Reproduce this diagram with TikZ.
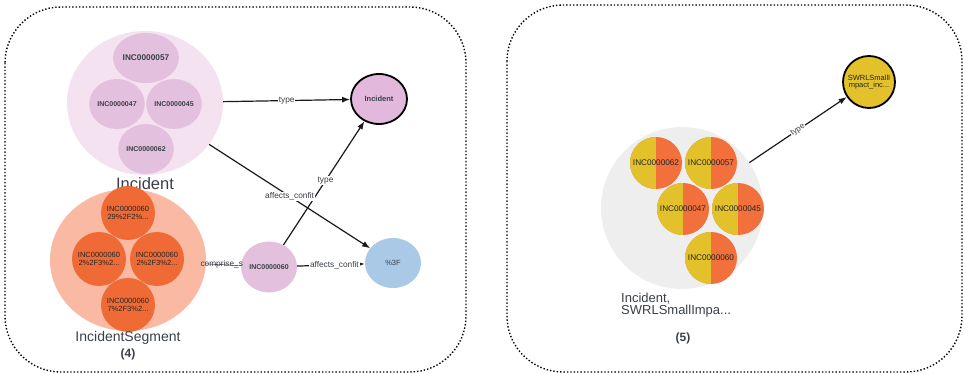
\documentclass[tikz,border=0pt]{standalone}
\usepackage{fontspec}
\setmainfont{Liberation Sans}
\usetikzlibrary{arrows.meta,shapes.geometric,positioning}

\definecolor{grpPink}{HTML}{F4E2F1}
\definecolor{memPink}{HTML}{E3C1DE}
\definecolor{clsPink}{HTML}{E2B9DC}
\definecolor{segPeach}{HTML}{F9B9A2}
\definecolor{segOrange}{HTML}{F06A36}
\definecolor{valBlue}{HTML}{A9C9E6}
\definecolor{grpGray}{HTML}{EEEEEE}
\definecolor{halfYellow}{HTML}{E2C12B}
\definecolor{halfOrange}{HTML}{F2703B}
\definecolor{txtGray}{HTML}{3A3F47}

\def\fs#1{\fontsize{#1}{#1}\selectfont}

\tikzset{
  panel/.style={dotted, line width=1.4pt, rounded corners=56pt},
  grp/.style={ellipse, inner sep=0pt, draw=none},
  member/.style={ellipse, fill=memPink, minimum width=55pt, minimum height=50pt,
    inner sep=0pt, font=\bfseries\fs{7}, text=txtGray},
  segm/.style={circle, fill=segOrange, minimum size=54pt, inner sep=0pt,
    align=center, font=\fs{7.5}, text=black!85},
  split/.style={circle, fill=halfOrange, minimum size=52pt, inner sep=0pt,
    font=\fs{8.2}, text=black!85,
    path picture={\fill[halfYellow] (path picture bounding box.north west)
      rectangle (path picture bounding box.south);}},
  grplabel/.style={font=\fs{15}, text=txtGray, inner sep=0pt},
  count/.style={font=\bfseries\fs{12}, text=txtGray, inner sep=0pt},
  elabel/.style={fill=white, inner sep=0.8pt, font=\fs{8.3}, text=txtGray},
  edge/.style={-{Latex[length=8pt,width=6pt]}, line width=1.2pt, black!90},
}

\begin{document}
\begin{tikzpicture}[x=1pt,y=-1pt]
\useasboundingbox (0,0) rectangle (964,374);

%%%%% LEFT PANEL %%%%%
\draw[panel] (5,7) rectangle (466,372);

% Incident group
\node[grp, fill=grpPink, minimum width=156pt, minimum height=144pt] (incgrp) at (145,103) {};
\node[member, font=\bfseries\fs{8.3}] (inc57) at (146,58) {INC0000057};
\node[member] (inc47) at (117,104) {INC0000047};
\node[member] (inc45) at (174,104) {INC0000045};
\node[member] (inc62) at (146,149) {INC0000062};
\node[grplabel, font=\fs{16.5}] (lblinc) at (145,184) {Incident};

% IncidentSegment group
\node[grp, fill=segPeach, minimum width=156pt, minimum height=142pt] (seggrp) at (128,260) {};
\node[segm] (seg1) at (128,213) {INC0000060\\29\%2F2\%...};
\node[segm] (seg2) at (99,259) {INC0000060\\2\%2F3\%2...};
\node[segm] (seg3) at (157,259) {INC0000060\\2\%2F3\%2...};
\node[segm] (seg4) at (128,305) {INC0000060\\7\%2F3\%2...};
\node[grplabel, font=\fs{14}] (lblseg) at (128,338) {IncidentSegment};
\node[count] (cnt4) at (128,354) {(4)};

% single nodes
\node[ellipse, draw=black, line width=1.8pt, fill=clsPink, minimum width=56pt, minimum height=50pt,
  inner sep=0pt, font=\bfseries\fs{7.5}, text=txtGray] (inccls) at (379,99) {Incident};
\node[ellipse, fill=valBlue, minimum width=56pt, minimum height=50pt, inner sep=0pt,
  font=\fs{7.5}, text=txtGray] (val3f) at (393,263) {\%3F};
\node[ellipse, fill=memPink, minimum width=56pt, minimum height=51pt, inner sep=0pt,
  font=\bfseries\fs{7}, text=txtGray] (inc60) at (269,267) {INC0000060};

% edges
\draw[edge] (incgrp) -- node[elabel] {type} (inccls);
\draw[edge] (inc60) -- node[elabel, pos=0.52] {type} (inccls);
\draw[edge] (incgrp) -- node[elabel, pos=0.5] {affects\_confit} (val3f);
\draw[edge] (inc60) -- node[elabel, pos=0.55] {affects\_confit} (val3f);
\draw (seggrp) -- node[elabel, fill=none, pos=0.45] {comprise\_s} (inc60);

%%%%% RIGHT PANEL %%%%%
\draw[panel] (507,5) rectangle (962,372);

\node[circle, fill=grpGray, minimum size=162pt, inner sep=0pt] (grygrp) at (682,208) {};
\node[split] (r62) at (656,163) {INC0000062};
\node[split] (r57) at (711,163) {INC0000057};
\node[split] (r47) at (683,209) {INC0000047};
\node[split] (r45) at (738,209) {INC0000045};
\node[split] (r60) at (711,258) {INC0000060};
\node[grplabel, font=\fs{13}, anchor=west, align=left] (lblswrl) at (621,305) {Incident,\\[-1pt]SWRLSmallImpa...};
\node[count] (cnt5) at (683,338) {(5)};

\node[circle, draw=black, line width=1.8pt, fill=halfYellow, minimum size=52pt, inner sep=0pt,
  align=center, font=\fs{7.5}, text=black!85] (swrl) at (869,82) {SWRLSmallI\\mpact\_inc...};

\draw[edge] (grygrp) -- node[elabel, sloped, font=\fs{8}] {type} (swrl);
\end{tikzpicture}
\end{document}
